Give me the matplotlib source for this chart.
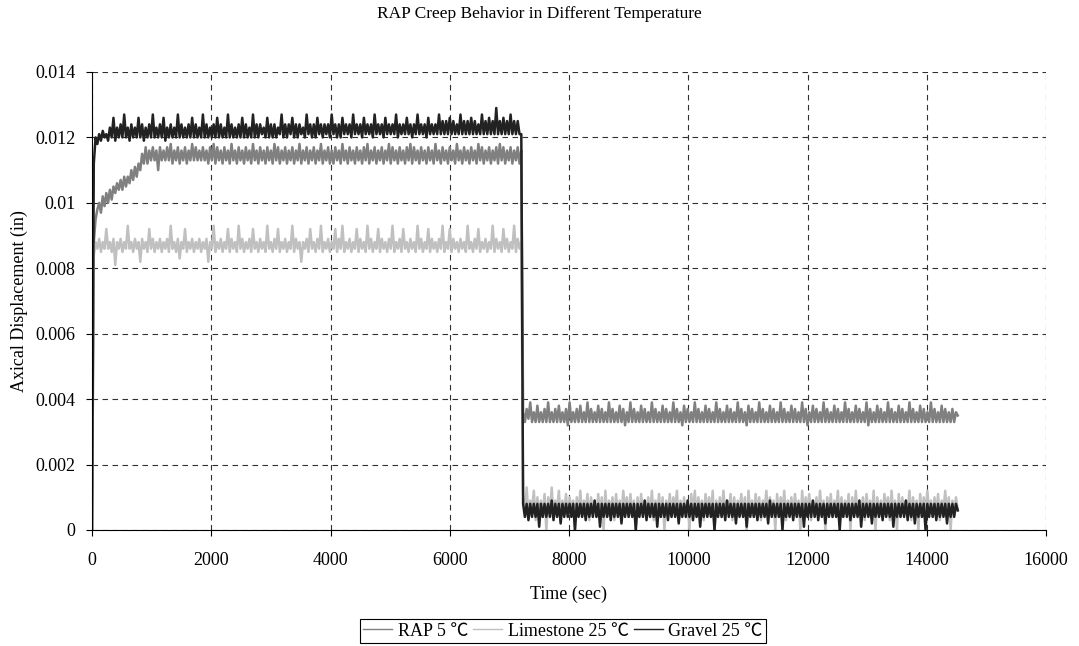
import numpy as np
import matplotlib
matplotlib.use('Agg')
import matplotlib.pyplot as plt
from matplotlib.ticker import FuncFormatter

# 字体: Times 风格 + ℃ 回退
plt.rcParams['font.family'] = ['Liberation Serif', 'Noto Sans CJK SC']
plt.rcParams['font.size'] = 13

# 读数间隔 30 s; 加载段从 0 s 开始, 卸载段从 7230 s 开始
dt = 30
unload_start = 7230

# 位移读数, 单位 1e-4 in
rap_load = [
    0, 88, 95, 98, 100, 97, 102, 99, 103, 100,
    104, 101, 105, 103, 106, 104, 107, 104, 108, 105,
    108, 106, 110, 107, 111, 108, 112, 110, 115, 112,
    117, 112, 116, 113, 117, 113, 116, 110, 117, 113,
    116, 113, 117, 113, 118, 112, 116, 113, 117, 112,
    116, 113, 117, 112, 116, 113, 118, 113, 117, 113,
    116, 113, 117, 113, 116, 112, 117, 113, 118, 112,
    117, 113, 116, 112, 117, 113, 116, 112, 118, 113,
    116, 112, 117, 113, 116, 112, 117, 113, 116, 112,
    118, 113, 116, 112, 117, 113, 116, 112, 117, 113,
    116, 112, 118, 113, 117, 112, 116, 113, 117, 112,
    116, 113, 117, 112, 116, 113, 118, 112, 116, 113,
    117, 112, 116, 113, 117, 112, 116, 113, 118, 112,
    116, 113, 117, 112, 116, 112, 117, 113, 116, 112,
    118, 113, 116, 112, 117, 113, 116, 112, 117, 113,
    116, 112, 117, 113, 118, 112, 116, 113, 117, 112,
    116, 113, 117, 112, 116, 113, 118, 112, 117, 113,
    116, 112, 117, 113, 116, 112, 117, 113, 118, 112,
    117, 113, 116, 112, 117, 113, 116, 112, 117, 113,
    116, 112, 118, 113, 116, 112, 117, 113, 116, 112,
    117, 113, 116, 112, 118, 113, 116, 112, 117, 113,
    116, 112, 117, 113, 116, 112, 118, 113, 117, 112,
    116, 113, 117, 112, 116, 113, 117, 112, 118, 113,
    117, 112, 116, 113, 117, 112, 116, 113, 117, 112,
    116,
]
limestone_load = [
    0, 84, 88, 86, 89, 85, 88, 86, 92, 86,
    88, 85, 89, 81, 88, 86, 89, 85, 88, 86,
    93, 86, 88, 85, 89, 86, 88, 82, 89, 86,
    88, 85, 92, 86, 89, 85, 88, 86, 89, 85,
    88, 86, 89, 85, 93, 86, 88, 85, 89, 83,
    88, 86, 92, 85, 88, 86, 89, 85, 88, 86,
    89, 85, 88, 86, 89, 82, 88, 86, 93, 85,
    88, 86, 89, 85, 88, 86, 92, 85, 89, 86,
    88, 85, 93, 86, 89, 85, 88, 86, 89, 85,
    92, 86, 88, 85, 89, 86, 88, 85, 93, 86,
    88, 85, 89, 86, 92, 85, 88, 86, 89, 85,
    88, 86, 93, 85, 89, 86, 88, 82, 88, 86,
    89, 85, 92, 86, 88, 85, 89, 86, 93, 85,
    88, 86, 89, 85, 88, 86, 92, 85, 89, 86,
    93, 85, 88, 86, 89, 85, 88, 86, 92, 85,
    89, 86, 88, 85, 93, 86, 89, 85, 88, 86,
    92, 85, 89, 86, 88, 85, 89, 86, 93, 85,
    88, 86, 89, 85, 92, 86, 88, 85, 89, 86,
    88, 85, 93, 86, 89, 85, 88, 86, 92, 85,
    89, 86, 88, 85, 89, 86, 93, 85, 88, 86,
    92, 85, 89, 86, 88, 85, 89, 86, 88, 85,
    93, 86, 88, 85, 89, 86, 92, 85, 88, 86,
    89, 85, 88, 86, 93, 85, 89, 86, 88, 85,
    92, 86, 89, 85, 88, 86, 93, 85, 89, 86,
    88,
]
gravel_load = [
    0, 112, 120, 118, 121, 119, 122, 120, 121, 119,
    123, 120, 126, 119, 123, 120, 124, 120, 127, 120,
    123, 119, 124, 120, 123, 120, 126, 120, 124, 119,
    123, 120, 124, 120, 127, 120, 123, 120, 124, 120,
    126, 119, 123, 120, 124, 120, 123, 120, 127, 120,
    124, 120, 123, 120, 124, 120, 126, 120, 124, 120,
    123, 120, 127, 120, 124, 120, 123, 120, 124, 120,
    126, 120, 124, 120, 123, 120, 127, 120, 124, 120,
    123, 120, 124, 120, 126, 120, 124, 120, 123, 120,
    127, 120, 124, 120, 124, 121, 123, 120, 126, 120,
    124, 120, 124, 120, 123, 121, 127, 120, 124, 120,
    124, 121, 126, 120, 124, 120, 124, 121, 123, 120,
    127, 121, 124, 120, 124, 120, 126, 121, 124, 120,
    124, 121, 124, 120, 127, 121, 124, 120, 124, 120,
    126, 121, 124, 121, 124, 120, 127, 121, 124, 121,
    124, 120, 126, 121, 124, 121, 124, 120, 127, 121,
    124, 121, 124, 120, 126, 121, 124, 121, 124, 121,
    127, 120, 124, 121, 124, 121, 126, 121, 124, 120,
    124, 121, 127, 121, 124, 121, 124, 120, 126, 121,
    124, 121, 124, 121, 127, 121, 125, 121, 125, 121,
    126, 121, 125, 121, 124, 121, 127, 121, 125, 121,
    125, 121, 126, 121, 125, 121, 124, 121, 127, 121,
    125, 121, 126, 121, 125, 121, 129, 121, 125, 121,
    126, 121, 125, 121, 127, 121, 125, 121, 125, 121,
    121,
]

rap_unload = [
    36, 33, 37, 34, 39, 33, 36, 33, 38, 33,
    36, 33, 37, 33, 39, 33, 36, 33, 37, 33,
    38, 33, 36, 33, 37, 32, 39, 33, 36, 33,
    37, 33, 38, 33, 36, 33, 39, 33, 37, 33,
    36, 33, 38, 33, 37, 33, 36, 33, 39, 33,
    37, 33, 36, 33, 38, 33, 37, 32, 36, 33,
    39, 33, 37, 33, 36, 33, 38, 33, 37, 33,
    36, 33, 39, 33, 37, 33, 36, 33, 38, 33,
    37, 33, 36, 33, 39, 33, 37, 33, 36, 32,
    38, 33, 37, 33, 36, 33, 39, 33, 37, 33,
    36, 33, 38, 33, 37, 33, 36, 33, 39, 33,
    37, 33, 36, 33, 38, 33, 37, 33, 36, 33,
    39, 33, 37, 33, 36, 32, 38, 33, 37, 33,
    36, 33, 39, 33, 37, 33, 36, 33, 38, 33,
    37, 33, 36, 33, 39, 33, 37, 33, 36, 33,
    38, 33, 37, 33, 36, 33, 39, 33, 37, 32,
    36, 33, 38, 33, 37, 33, 36, 33, 39, 33,
    37, 33, 36, 33, 38, 33, 37, 33, 36, 33,
    39, 33, 37, 33, 36, 33, 38, 33, 37, 33,
    36, 33, 39, 32, 37, 33, 36, 33, 38, 33,
    37, 33, 36, 33, 39, 33, 37, 33, 36, 33,
    38, 33, 37, 33, 36, 33, 39, 33, 37, 33,
    36, 33, 38, 33, 37, 33, 36, 33, 39, 33,
    37, 33, 36, 33, 38, 33, 37, 33, 36, 33,
    37, 33, 36, 35,
]
limestone_unload = [
    11, 5, 13, 4, 9, 6, 12, 3, 10, 5,
    9, 4, 11, 0, 10, 5, 13, 4, 9, 6,
    12, 3, 9, 5, 11, 4, 10, 6, 9, 0,
    10, 5, 12, 4, 9, 6, 11, 3, 10, 5,
    9, 4, 11, 5, 10, 0, 12, 4, 9, 6,
    10, 3, 11, 5, 9, 4, 12, 6, 10, 4,
    11, 5, 9, 0, 10, 4, 11, 5, 9, 6,
    10, 4, 12, 3, 9, 5, 11, 4, 10, 0,
    9, 5, 11, 4, 10, 6, 12, 3, 9, 5,
    10, 4, 9, 0, 11, 5, 12, 4, 10, 6,
    9, 3, 11, 5, 10, 4, 12, 0, 9, 5,
    10, 4, 12, 5, 9, 6, 11, 3, 10, 4,
    9, 6, 11, 4, 10, 0, 12, 5, 9, 4,
    11, 5, 10, 3, 9, 6, 12, 4, 10, 5,
    9, 0, 11, 4, 10, 5, 12, 3, 9, 6,
    10, 4, 11, 5, 9, 0, 12, 4, 10, 5,
    11, 3, 9, 6, 10, 4, 12, 5, 9, 0,
    10, 5, 11, 4, 9, 6, 12, 3, 10, 4,
    9, 5, 11, 0, 10, 4, 12, 5, 9, 6,
    10, 3, 11, 5, 9, 4, 12, 0, 10, 5,
    9, 4, 11, 6, 10, 3, 12, 5, 9, 0,
    11, 4, 10, 5, 9, 6, 12, 3, 10, 5,
    9, 0, 11, 4, 10, 5, 12, 6, 9, 4,
    10, 5, 11, 3, 9, 6, 12, 4, 10, 0,
    9, 5, 10, 6,
]
gravel_unload = [
    8, 4, 8, 3, 8, 4, 8, 4, 8, 1,
    8, 4, 8, 4, 8, 4, 9, 3, 8, 4,
    8, 2, 8, 4, 8, 4, 8, 4, 8, 0,
    8, 4, 8, 4, 8, 3, 8, 4, 8, 4,
    9, 4, 8, 1, 8, 4, 8, 4, 8, 3,
    8, 4, 8, 4, 8, 2, 8, 4, 8, 4,
    8, 4, 8, 0, 8, 4, 8, 4, 9, 3,
    8, 4, 8, 4, 8, 1, 8, 4, 8, 4,
    8, 3, 8, 4, 8, 4, 8, 2, 8, 4,
    8, 4, 9, 4, 8, 3, 8, 4, 8, 1,
    8, 4, 8, 4, 8, 4, 8, 0, 8, 4,
    8, 4, 8, 3, 9, 4, 8, 4, 8, 2,
    8, 4, 8, 4, 8, 1, 8, 4, 8, 4,
    8, 3, 8, 4, 8, 4, 8, 2, 9, 4,
    8, 4, 8, 4, 8, 0, 8, 4, 8, 4,
    8, 3, 8, 4, 8, 4, 8, 1, 8, 4,
    8, 4, 9, 4, 8, 3, 8, 4, 8, 2,
    8, 4, 8, 4, 8, 4, 8, 0, 8, 4,
    8, 4, 8, 3, 8, 4, 8, 4, 9, 1,
    8, 4, 8, 4, 8, 2, 8, 4, 8, 4,
    8, 3, 8, 4, 8, 4, 8, 1, 8, 4,
    8, 4, 8, 4, 9, 3, 8, 4, 8, 2,
    8, 4, 8, 4, 8, 0, 8, 4, 8, 4,
    8, 3, 8, 4, 8, 4, 8, 2, 8, 4,
    8, 4, 8, 6,
]

labels = ['RAP 5 ℃', 'Limestone 25 ℃', 'Gravel 25 ℃']
colors = ['#808080', '#c0c0c0', '#222222']
loads = [rap_load, limestone_load, gravel_load]
unloads = [rap_unload, limestone_unload, gravel_unload]

fig = plt.figure(figsize=(10.79, 6.46), dpi=100)
ax = fig.add_axes([92 / 1079, 1 - 530 / 646, 954 / 1079, 458 / 646])

for ld, ul, c, lab in zip(loads, unloads, colors, labels):
    t = np.concatenate([np.arange(len(ld)) * dt,
                        unload_start + np.arange(len(ul)) * dt])
    y = np.array(ld + ul) * 1e-4
    ax.plot(t, y, color=c, lw=1.8, label=lab)

ax.set_xlim(0, 16000)
ax.set_ylim(0, 0.014)
ax.set_xticks(np.arange(0, 16001, 2000))
ax.set_yticks(np.arange(0, 0.0141, 0.002))
ax.yaxis.set_major_formatter(FuncFormatter(lambda v, p: '%g' % round(v, 4)))
ax.grid(True, color='#303030', linestyle=(0, (5, 4)), linewidth=0.8)
ax.set_axisbelow(True)
for s in ['top', 'right']:
    ax.spines[s].set_visible(False)
ax.tick_params(direction='out', length=4, width=0.8)
ax.tick_params(axis='x', pad=12)
ax.tick_params(axis='y', pad=8)

ax.set_xlabel('Time (sec)', labelpad=12)
ax.set_ylabel('Axical Displacement (in)', labelpad=5)
fig.text(0.5, 1 - 14 / 646, 'RAP Creep Behavior in Different Temperature',
         ha='center', va='center', fontsize=12.5)

leg = fig.legend(loc='center', bbox_to_anchor=(563 / 1079, 1 - 631 / 646), ncol=3,
                 frameon=True, fancybox=False, edgecolor='black', framealpha=1,
                 handlelength=1.6, handletextpad=0.3, columnspacing=0.3,
                 borderpad=0.2, borderaxespad=0)
leg.get_frame().set_linewidth(0.8)
for h in leg.get_lines():
    h.set_linewidth(1)

fig.savefig('out.png', dpi=100)
